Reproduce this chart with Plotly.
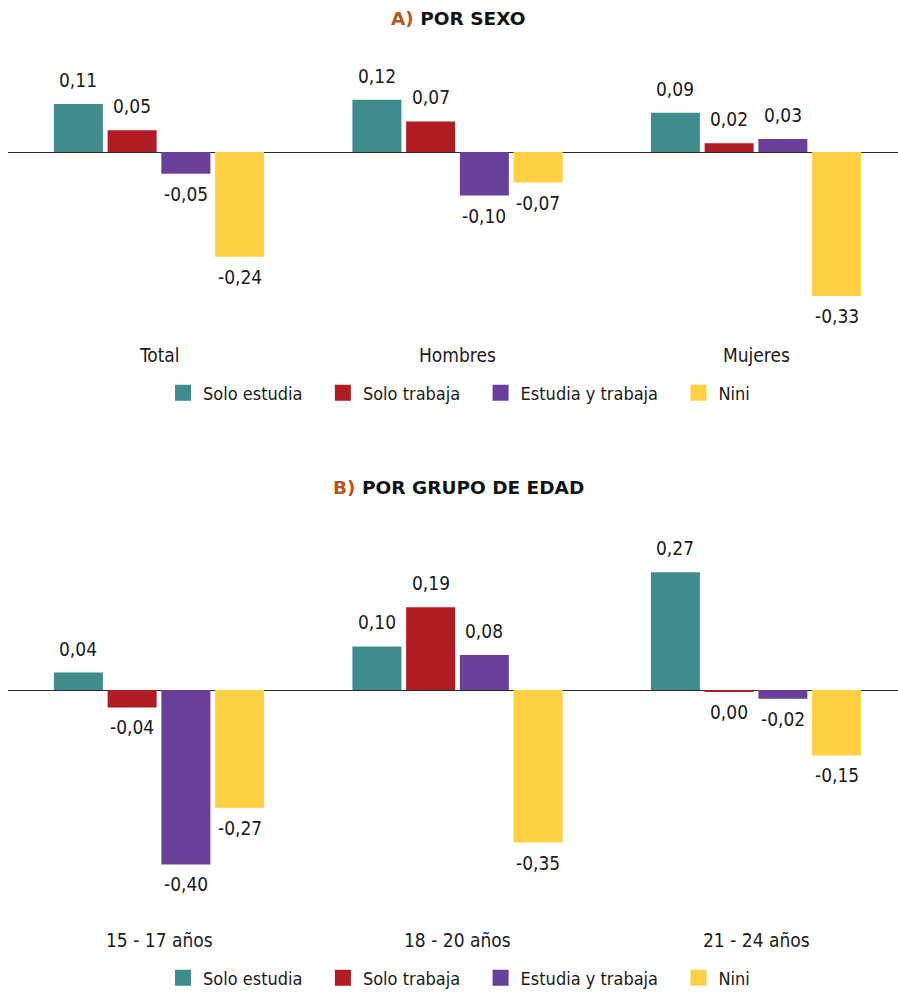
import plotly.graph_objects as go

# ---------------- data ----------------
series_names = ["Solo estudia", "Solo trabaja", "Estudia y trabaja", "Nini"]
series_colors = ["#3E8C8C", "#B01C22", "#6A3F99", "#FFD042"]

cats_a = ["Total", "Hombres", "Mujeres"]
solo_estudia_a = [0.11, 0.12, 0.09]
solo_trabaja_a = [0.05, 0.07, 0.02]
estudia_trabaja_a = [-0.05, -0.10, 0.03]
nini_a = [-0.24, -0.07, -0.33]

cats_b = ["15 - 17 años", "18 - 20 años", "21 - 24 años"]
solo_estudia_b = [0.04, 0.10, 0.27]
solo_trabaja_b = [-0.04, 0.19, -0.004]
estudia_trabaja_b = [-0.40, 0.08, -0.02]
nini_b = [-0.27, -0.35, -0.15]

title_a = ("A)", "POR SEXO")
title_b = ("B)", "POR GRUPO DE EDAD")

# ---------------- layout constants ----------------
W, H = 898, 992
FONT = "DejaVu Sans"
TITLE_FONT = "DejaVu Sans"
FS = 19
LEG_FS = 18
TXT = "#1a1a1a"

x_left_px, x_right_px = 8, 898
cat0_px, cat_step_px = 159, 298.5
x_r0 = -(cat0_px - x_left_px) / cat_step_px
x_r1 = x_r0 + (x_right_px - x_left_px) / cat_step_px

px_per_unit = 436.0
BARGAP = 0.28
BARGROUPGAP = 0.088


def pyp(px):
    return 1 - px / H


def cond(s):
    return f"<span style='font-stretch:condensed'>{s}</span>"


def fmt(v):
    s = f"{abs(v):.2f}".replace(".", ",")
    if round(abs(v), 2) == 0:
        return s
    return ("-" if v < 0 else "") + s


panels = [
    dict(cats=cats_a, vals=[solo_estudia_a, solo_trabaja_a, estudia_trabaja_a, nini_a],
         top=50, bottom=340, zero=152, xa="x", ya="y", legend="legend",
         title=title_a, title_y=18, cat_y=355, leg_y=393),
    dict(cats=cats_b, vals=[solo_estudia_b, solo_trabaja_b, estudia_trabaja_b, nini_b],
         top=540, bottom=920, zero=690, xa="x2", ya="y2", legend="legend2",
         title=title_b, title_y=487, cat_y=940, leg_y=978),
]

fig = go.Figure()
annotations = []
slot = (1 - BARGAP) * cat_step_px / 4

for p in panels:
    for i, (name, color, vals) in enumerate(zip(series_names, series_colors, p["vals"])):
        fig.add_trace(go.Bar(
            x=p["cats"], y=vals, name=name, marker=dict(color=color, line=dict(width=0)),
            xaxis=p["xa"], yaxis=p["ya"], showlegend=False, hoverinfo="skip",
        ))
        # legend entry
        pad = "&nbsp;" * 3 if i < len(series_names) - 1 else ""
        fig.add_trace(go.Scatter(
            x=[None], y=[None], mode="markers", name=cond(name + pad),
            marker=dict(symbol="square", size=16, color=color, line=dict(width=0)),
            xaxis=p["xa"], yaxis=p["ya"], legend=p["legend"], showlegend=True,
        ))
        for c, v in zip(p["cats"], vals):
            pos = v > 0
            annotations.append(dict(
                x=c, y=v, xref=p["xa"], yref=p["ya"], text=cond(fmt(v)), showarrow=False,
                xshift=(i - 1.5) * slot, yanchor="bottom" if pos else "top",
                yshift=11 if pos else -7,
                font=dict(family=FONT, size=FS, color=TXT),
            ))
    for c in p["cats"]:
        annotations.append(dict(
            x=c, y=pyp(p["cat_y"]), xref=p["xa"], yref="paper", text=cond(c), showarrow=False,
            yanchor="middle", font=dict(family=FONT, size=FS, color=TXT),
        ))
    annotations.append(dict(
        x=458 / W, y=pyp(p["title_y"]), xref="paper", yref="paper", showarrow=False,
        yanchor="middle", xanchor="center",
        text=f"<b><span style='color:#B5561C'>{p['title'][0]}</span> {p['title'][1]}</b>",
        font=dict(family=TITLE_FONT, size=18.5, color="#111111"),
    ))


def yaxis_cfg(p):
    return dict(
        domain=[pyp(p["bottom"]), pyp(p["top"])],
        range=[-(p["bottom"] - p["zero"]) / px_per_unit, (p["zero"] - p["top"]) / px_per_unit],
        showgrid=False, showticklabels=False, zeroline=True,
        zerolinecolor="#2a2a2a", zerolinewidth=1, fixedrange=True,
    )


xcfg = dict(domain=[x_left_px / W, x_right_px / W], range=[x_r0, x_r1], fixedrange=True,
            showgrid=False, showticklabels=False, zeroline=False, showline=False, ticks="")


def legend_cfg(p):
    return dict(orientation="h", x=459 / W, xanchor="center", y=pyp(p["leg_y"]), yanchor="middle",
                font=dict(family=FONT, size=LEG_FS, color=TXT), bgcolor="rgba(0,0,0,0)",
                itemsizing="trace", tracegroupgap=0, itemclick=False, itemdoubleclick=False)


fig.update_layout(
    autosize=True, margin=dict(l=0, r=0, t=0, b=0, autoexpand=False),
    paper_bgcolor="white", plot_bgcolor="white",
    barmode="group", bargap=BARGAP, bargroupgap=BARGROUPGAP,
    xaxis=dict(**xcfg, anchor="y"), xaxis2=dict(**xcfg, anchor="y2"),
    yaxis=dict(**yaxis_cfg(panels[0]), anchor="x"), yaxis2=dict(**yaxis_cfg(panels[1]), anchor="x2"),
    legend=legend_cfg(panels[0]), legend2=legend_cfg(panels[1]),
    annotations=annotations, showlegend=True, hovermode=False,
)

fig.write_html(
    "out.html",
    config={"displayModeBar": False, "responsive": True},
    default_width="100vw",
    default_height="100vh",
    post_script=(
        "document.documentElement.style.margin='0';"
        "document.documentElement.style.overflow='hidden';"
        "document.body.style.margin='0';"
        "document.body.style.overflow='hidden';"
    ),
)
